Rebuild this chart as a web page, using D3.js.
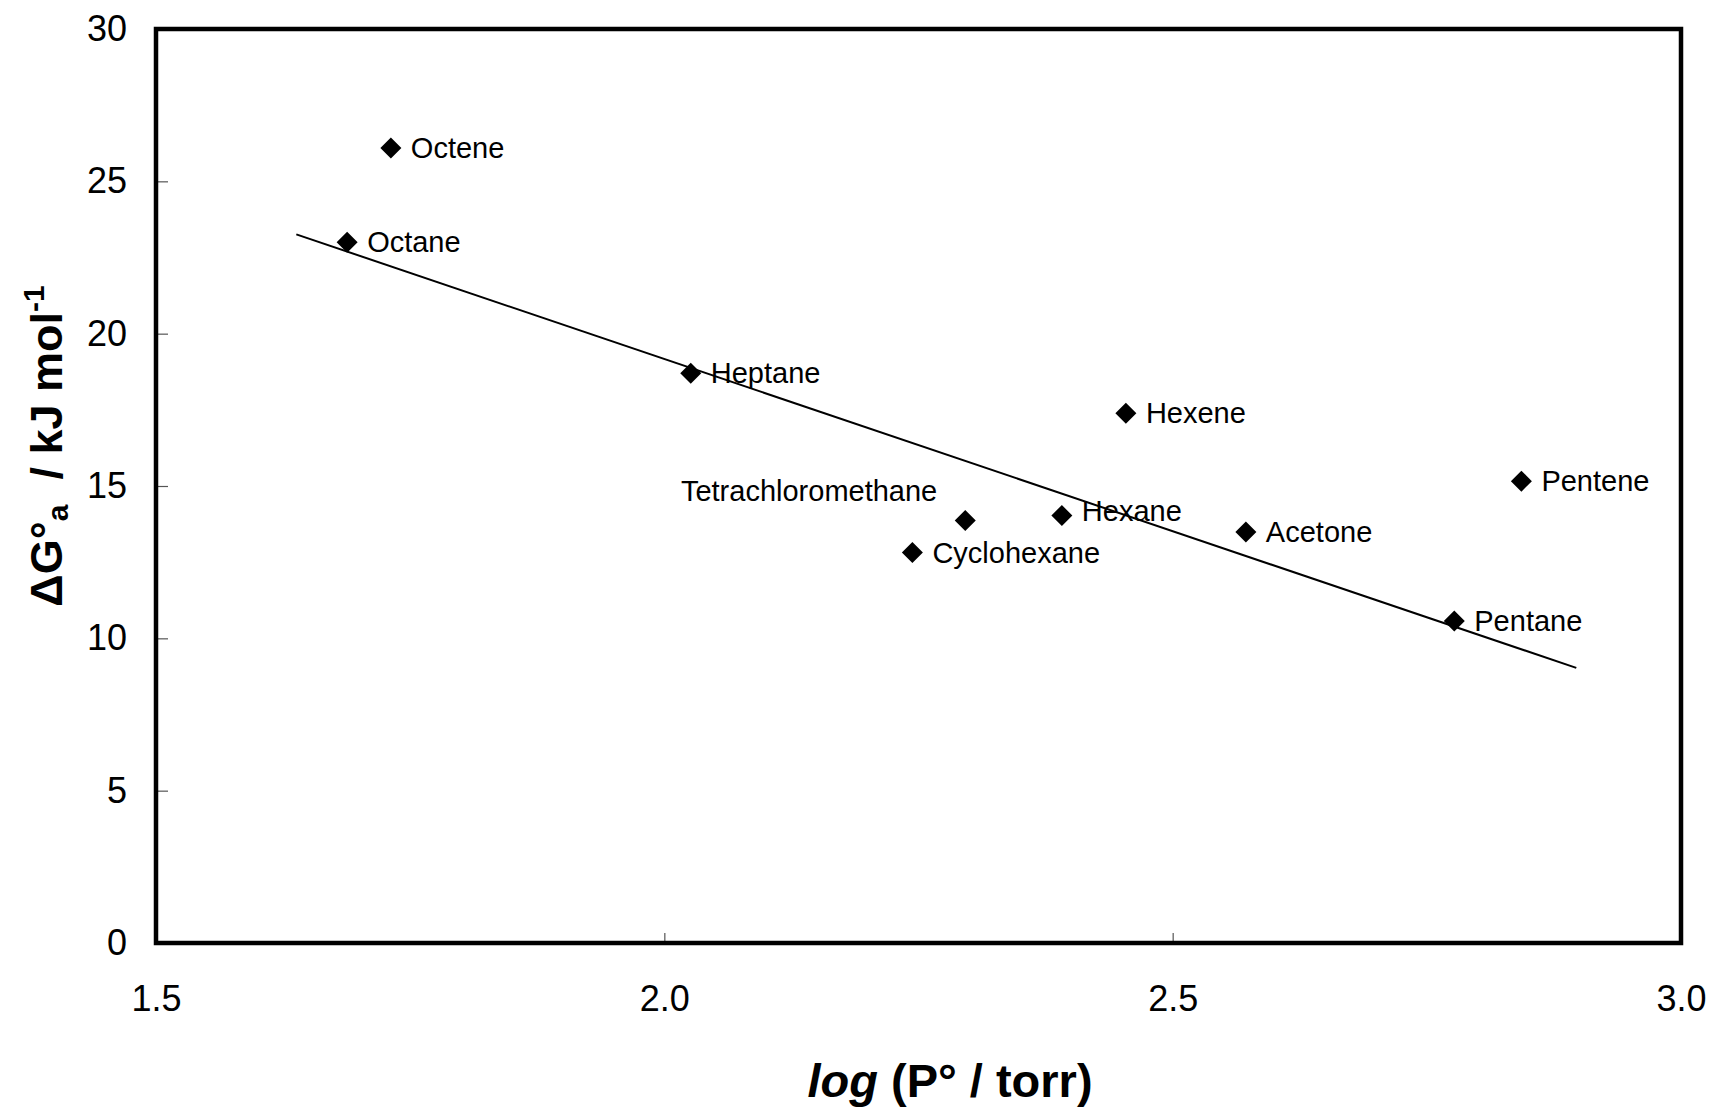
<!DOCTYPE html>
<html>
<head>
<meta charset="utf-8">
<script src="https://cdn.jsdelivr.net/npm/d3@7"></script>
<style>
  html, body { margin: 0; padding: 0; background: #fff; }
  svg { display: block; font-family: "Liberation Sans", Arial, sans-serif; }
</style>
</head>
<body>
<div id="chart"></div>
<script>
// Data
const solvents = ["Octene", "Octane", "Heptane", "Hexene", "Pentene",
                  "Tetrachloromethane", "Hexane", "Acetone", "Cyclohexane", "Pentane"];
const logP = [1.731, 1.688, 2.026, 2.454, 2.843, 2.296, 2.391, 2.572, 2.244, 2.777];
const deltaG = [26.09, 23.0, 18.70, 17.39, 15.16, 13.87, 14.03, 13.49, 12.82, 10.57];

// trend line end points
const trendX = [1.638, 2.897];
const trendY = [23.26, 9.03];

const xTicks = [1.5, 2.0, 2.5, 3.0];
const yTicks = [0, 5, 10, 15, 20, 25, 30];

const width = 1715, height = 1108;
const margin = { left: 156, right: 34, top: 29, bottom: 165 };

const svg = d3.select("#chart").append("svg")
    .attr("width", width)
    .attr("height", height);

const x = d3.scaleLinear().domain([1.5, 3.0]).range([margin.left, width - margin.right]);
const y = d3.scaleLinear().domain([0, 30]).range([height - margin.bottom, margin.top]);

// axes (inside ticks, no domain line - the frame is drawn separately)
const yAxis = svg.append("g")
    .attr("transform", `translate(${margin.left},0)`)
    .call(d3.axisLeft(y).tickValues(yTicks).tickSize(-12).tickPadding(29).tickFormat(d3.format("d")));
yAxis.select(".domain").remove();
yAxis.selectAll("line").attr("stroke", "#555").attr("stroke-width", 1.2)
    .filter(d => d === 0 || d === 30).remove();
yAxis.selectAll("text").attr("font-size", "36px").attr("fill", "#000")
    .attr("font-family", "Liberation Sans, Arial, sans-serif");

const xAxis = svg.append("g")
    .attr("transform", `translate(0,${height - margin.bottom})`)
    .call(d3.axisBottom(x).tickValues(xTicks).tickSize(-10).tickPadding(42).tickFormat(d3.format(".1f")));
xAxis.select(".domain").remove();
xAxis.selectAll("line").attr("stroke", "#555").attr("stroke-width", 1.2)
    .filter(d => d === 1.5 || d === 3.0).remove();
xAxis.selectAll("text").attr("font-size", "36px").attr("fill", "#000")
    .attr("font-family", "Liberation Sans, Arial, sans-serif");

// plot frame
svg.append("rect")
    .attr("x", x(1.5))
    .attr("y", y(30))
    .attr("width", x(3.0) - x(1.5))
    .attr("height", y(0) - y(30))
    .attr("fill", "none")
    .attr("stroke", "#000")
    .attr("stroke-width", 4.5);

// trend line
svg.append("line")
    .attr("x1", x(trendX[0])).attr("y1", y(trendY[0]))
    .attr("x2", x(trendX[1])).attr("y2", y(trendY[1]))
    .attr("stroke", "#000")
    .attr("stroke-width", 2);

// diamonds
const points = solvents.map((name, i) => ({ name, x: logP[i], y: deltaG[i] }));
const r = 10.5;
svg.selectAll(".pt")
    .data(points)
    .enter()
    .append("path")
    .attr("class", "pt")
    .attr("transform", d => `translate(${x(d.x)},${y(d.y)})`)
    .attr("d", `M0,${-r}L${r},0L0,${r}L${-r},0Z`)
    .attr("fill", "#000");

// labels
svg.selectAll(".lbl")
    .data(points)
    .enter()
    .append("text")
    .attr("class", "lbl")
    .attr("x", d => d.name === "Tetrachloromethane" ? x(d.x) - 28 : x(d.x) + 20)
    .attr("y", d => d.name === "Tetrachloromethane" ? y(d.y) - 30 : y(d.y) - (d.name === "Hexane" ? 5 : 0))
    .attr("dy", "0.35em")
    .attr("text-anchor", d => d.name === "Tetrachloromethane" ? "end" : "start")
    .attr("font-size", "29px")
    .attr("fill", "#000")
    .text(d => d.name);

// x axis title
const xt = svg.append("text")
    .attr("x", 950)
    .attr("y", 1097)
    .attr("text-anchor", "middle")
    .attr("font-size", "47px")
    .attr("font-weight", "bold");
xt.append("tspan").attr("font-style", "italic").text("log");
xt.append("tspan").text(" (P° / torr)");

// y axis title
const yt = svg.append("text")
    .attr("transform", "translate(62,446) rotate(-90)")
    .attr("text-anchor", "middle")
    .attr("font-size", "45px")
    .attr("font-weight", "bold");
yt.append("tspan").text("ΔG°");
yt.append("tspan").attr("font-size", "30px").attr("dy", 6).text("a");
yt.append("tspan").attr("dy", -6).attr("xml:space", "preserve").text("\u00a0 / kJ mol");
yt.append("tspan").attr("font-size", "30px").attr("dy", -18).text("-1");
</script>
</body>
</html>
